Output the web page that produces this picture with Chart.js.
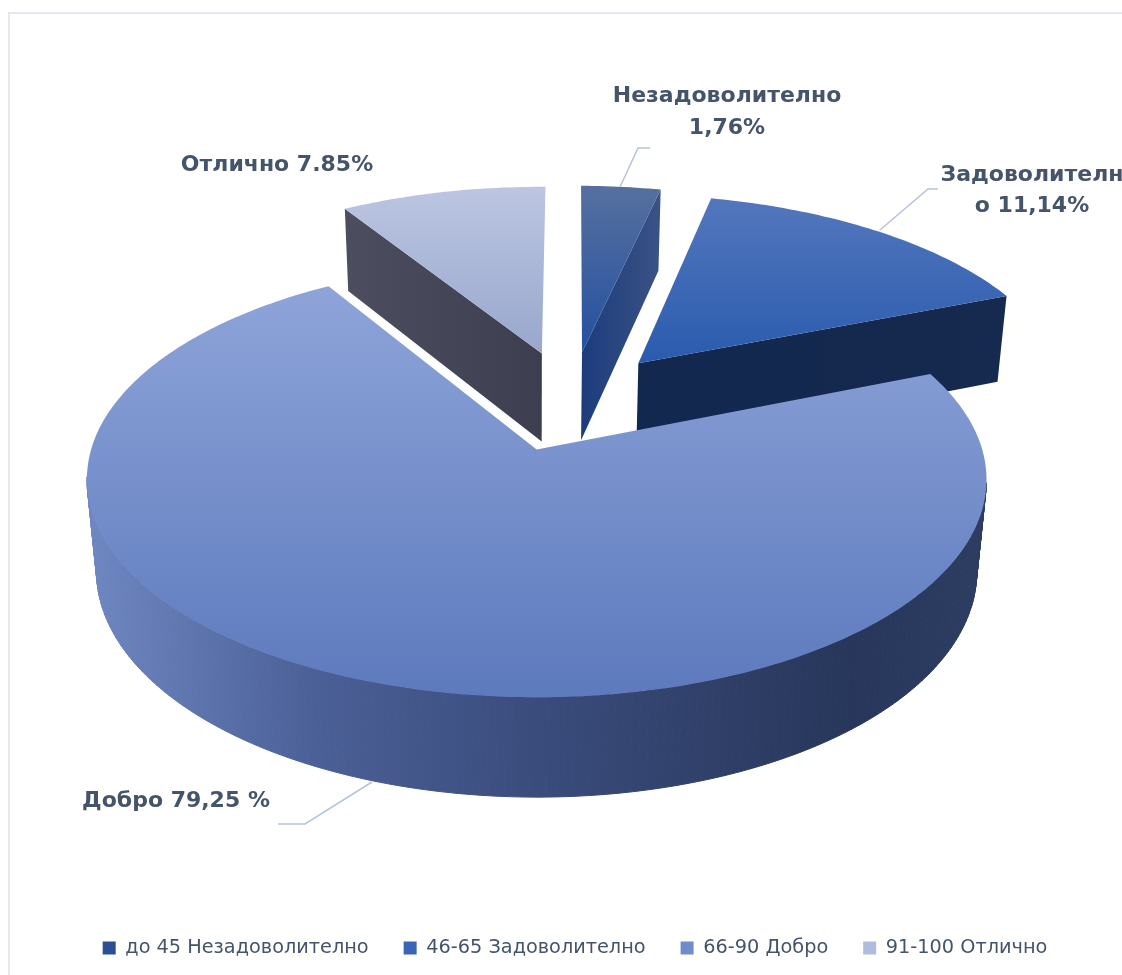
<!DOCTYPE html>
<html>
<head>
<meta charset="utf-8">
<script src="https://cdn.jsdelivr.net/npm/chart.js@4"></script>
<style>
    html, body { margin: 0; padding: 0; background: #fff; overflow: hidden; }
    #frame { position: absolute; left: 8px; top: 12px; right: -4px; bottom: -4px; border-top: 2px solid #e4e8ee; border-left: 2px solid #e4e8ee; }
    canvas { position: absolute; left: 0; top: 0; }
</style>
</head>
<body>
<div id="frame"></div>
<canvas id="pie" width="1122" height="975"></canvas>
<script>
const categories = ['до 45 Незадоволително', '46-65 Задоволително', '66-90 Добро', '91-100 Отлично'];
const shares = [3.44, 15.33, 72.31, 8.92];
const legendColors = ['#2a4f94', '#3a64b4', '#6f8ccb', '#b0bcdc'];
const labelLines = [['Незадоволително', '1,76%'], ['Задоволителн', 'о 11,14%'], ['Добро 79,25 %'], ['Отлично 7.85%']];

// looks of the slices, same order as categories
const topColors = [['#56709f', '#2450a0'], ['#5377bd', '#2a5bae'], ['#8ea4d9', '#5d7abd'], ['#bcc6e2', '#98a7cc']];
const wallColors = [
    [[0, '#1b3c7c'], [1, '#3b5285']],
    [[0, '#12284e'], [1, '#16294f']],
    [[0, '#6f87c2'], [0.25, '#4b6097'], [0.5, '#3a4c7c'], [0.85, '#27365a'], [1, '#2d3d62']],
    [[0, '#4c4e5f'], [1, '#3d3f50']]
];
const labelBoxes = [
    { x: 727, y: [96, 128], align: 'center', line: [[638, 148], [650, 148]] },
    { x: 1032, y: [175, 206], align: 'center', line: [[928, 189], [938, 189]] },
    { x: 176, y: [801], align: 'center', line: [[305, 824], [278, 824]] },
    { x: 277, y: [165], align: 'center' }
];
const leaderStarts = [[620, 187], [880, 230], [372, 782]];

// camera: 1 unit is one pie radius, the origin sits on the tip of the big slice
const cam = { x: 534, y: 450, a: 445.7, b: 213.9, c: 93.7, p: 0.1376, q: 0.0216 };
const pieCentre = { u: 0.085, v: -0.24 };
const explode = 0.25;
const paintOrder = [3, 0, 1, 2];
const legendPadding = 35;
const legendMiddle = 950;

function project(u, v, z) {
    const w = 1 - cam.p * v + cam.q * z;
    return [cam.x + cam.a * u / w, cam.y + (cam.b * v + cam.c * z) / w];
}

function tracePath(ctx, pts) {
    ctx.beginPath();
    pts.forEach((p, i) => i ? ctx.lineTo(p[0], p[1]) : ctx.moveTo(p[0], p[1]));
    ctx.closePath();
}

function signedArea(pts) {
    let sum = 0;
    pts.forEach((p, i) => {
        const n = pts[(i + 1) % pts.length];
        sum += p[0] * n[1] - n[0] * p[1];
    });
    return sum / 2;
}

function vertical(ctx, pts, colors) {
    const ys = pts.map(p => p[1]);
    const g = ctx.createLinearGradient(0, Math.min(...ys), 0, Math.max(...ys));
    g.addColorStop(0, colors[0]);
    g.addColorStop(1, colors[1]);
    return g;
}

function horizontal(ctx, pts, stops) {
    const xs = pts.map(p => p[0]);
    const g = ctx.createLinearGradient(Math.min(...xs), 0, Math.max(...xs), 0);
    stops.forEach(s => g.addColorStop(s[0], s[1]));
    return g;
}

function drawSlice(ctx, el, i) {
    const { startAngle, endAngle } = el.getProps(['startAngle', 'endAngle'], true);
    const mid = (startAngle + endAngle) / 2;
    const tipU = pieCentre.u + Math.cos(mid) * explode;
    const tipV = pieCentre.v + Math.sin(mid) * explode;
    const steps = Math.max(4, Math.ceil((endAngle - startAngle) * 60));
    const angles = [];
    const rim = [];
    for (let s = 0; s <= steps; s++) {
        const t = startAngle + (endAngle - startAngle) * s / steps;
        angles.push(t);
        rim.push([tipU + Math.cos(t), tipV + Math.sin(t)]);
    }
    const at = (pt, z) => project(pt[0], pt[1], z);
    const tip = [tipU, tipV];
    const first = rim[0], last = rim[rim.length - 1];

    // flat walls: only the one turned to the viewer, thin slivers are dropped
    const startWall = [at(tip, 0), at(first, 0), at(first, 1), at(tip, 1)];
    const endWall = [at(tip, 0), at(last, 0), at(last, 1), at(tip, 1)];
    [[startWall, -signedArea(startWall)], [endWall, signedArea(endWall)]].forEach(([w, facing]) => {
        if (facing < 500) return;
        tracePath(ctx, w);
        ctx.fillStyle = horizontal(ctx, w, wallColors[i]);
        ctx.fill();
    });

    // the curved wall goes strip by strip, one outline polygon would miss the silhouette
    const outline = rim.map(p => at(p, 0)).concat(rim.map(p => at(p, 1)));
    const curved = horizontal(ctx, outline, wallColors[i]);
    ctx.fillStyle = curved;
    ctx.strokeStyle = curved;
    ctx.lineWidth = 1;
    for (let s = 0; s < rim.length - 1; s++) {
        if (Math.sin(angles[s]) < cam.p) continue; // back of the rim, turned away from the camera
        tracePath(ctx, [at(rim[s], 0), at(rim[s + 1], 0), at(rim[s + 1], 1), at(rim[s], 1)]);
        ctx.fill();
        ctx.stroke();
    }

    const top = [at(tip, 0)].concat(rim.map(p => at(p, 0)));
    tracePath(ctx, top);
    ctx.fillStyle = vertical(ctx, top, topColors[i]);
    ctx.fill();
}

const pie3d = {
    id: 'pie3d',
    afterLayout(chart) {
        // the legend row sits higher than the default bottom position
        const legend = chart.legend;
        legend.top = legendMiddle - legendPadding - legend.options.labels.font.size * 0.6;
        legend.bottom = chart.height;
    },
    beforeDatasetDraw(chart) {
        const ctx = chart.ctx;
        const arcs = chart.getDatasetMeta(0).data;
        ctx.save();
        paintOrder.forEach(i => drawSlice(ctx, arcs[i], i));
        ctx.restore();
        return false;
    },
    afterDraw(chart) {
        const ctx = chart.ctx;
        ctx.save();
        ctx.strokeStyle = '#b5c3d9';
        ctx.lineWidth = 1.5;
        leaderStarts.forEach((start, i) => {
            ctx.beginPath();
            ctx.moveTo(start[0], start[1]);
            labelBoxes[i].line.forEach(p => ctx.lineTo(p[0], p[1]));
            ctx.stroke();
        });
        ctx.fillStyle = '#44546a';
        ctx.font = 'bold 22px "DejaVu Sans"';
        ctx.textBaseline = 'middle';
        labelLines.forEach((lines, i) => {
            ctx.textAlign = labelBoxes[i].align;
            lines.forEach((text, k) => ctx.fillText(text, labelBoxes[i].x, labelBoxes[i].y[k]));
        });
        ctx.restore();
    }
};

new Chart(document.getElementById('pie').getContext('2d'), {
    type: 'pie',
    data: {
        labels: categories,
        datasets: [{ data: shares, backgroundColor: legendColors, borderWidth: 0 }]
    },
    options: {
        responsive: false,
        animation: false,
        rotation: 0.7,
        layout: { padding: { left: 28 } },
        plugins: {
            tooltip: { enabled: false },
            legend: {
                position: 'bottom',
                labels: {
                    boxWidth: 13,
                    boxHeight: 13,
                    padding: legendPadding,
                    color: '#44546a',
                    font: { family: '"DejaVu Sans"', size: 19.3 }
                }
            }
        }
    },
    plugins: [pie3d]
});
</script>
</body>
</html>
